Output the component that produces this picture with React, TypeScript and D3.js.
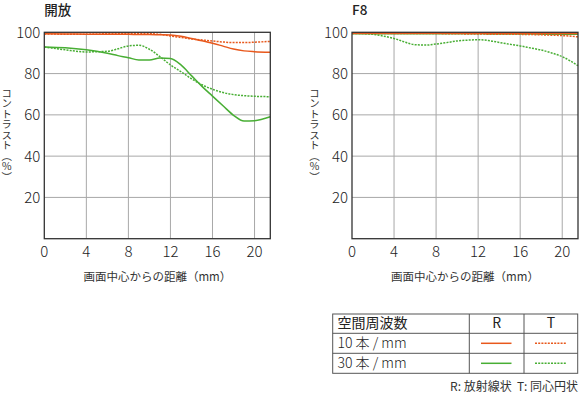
import React from "react";
import * as d3 from "d3";

// image height positions in mm
const positions = [0, 2, 4, 6, 7, 8, 9, 10, 11, 12, 13, 14, 15, 16, 17, 18, 19, 20, 21.5];

// 開放
const openR10 = [99.3, 99.2, 99.1, 99.0, 99.0, 99.0, 98.9, 98.9, 98.8, 98.7, 98.1, 97.0, 95.9, 94.7, 93.3, 91.9, 91.0, 90.6, 90.3];
const openT10 = [99.2, 99.1, 99.1, 99.3, 99.4, 99.5, 99.5, 99.4, 99.0, 98.2, 97.5, 96.8, 96.3, 95.8, 95.3, 95.0, 95.0, 95.2, 95.6];
const openR30 = [92.9, 92.5, 91.5, 89.8, 88.7, 87.7, 86.6, 86.6, 87.5, 87.3, 84.2, 79.0, 73.8, 69.1, 64.4, 59.8, 57.0, 57.2, 59.1];
const openT30 = [92.9, 91.5, 90.5, 90.8, 92.0, 93.4, 93.7, 91.8, 88.2, 84.2, 80.9, 77.5, 74.6, 72.4, 70.8, 69.8, 69.3, 69.0, 68.8];

// F8
const f8R10 = [99.6, 99.6, 99.6, 99.6, 99.6, 99.6, 99.6, 99.6, 99.6, 99.6, 99.6, 99.6, 99.6, 99.6, 99.5, 99.5, 99.5, 99.4, 99.4];
const f8T10 = [99.4, 99.4, 99.4, 99.4, 99.4, 99.4, 99.3, 99.3, 99.2, 99.2, 99.1, 99.1, 99.0, 99.0, 98.9, 98.8, 98.6, 98.4, 97.8];
const f8R30 = [99.3, 99.3, 99.3, 99.3, 99.3, 99.3, 99.3, 99.3, 99.3, 99.3, 99.2, 99.2, 99.2, 99.2, 99.2, 99.1, 99.1, 99.0, 99.0];
const f8T30 = [99.6, 99.0, 97.0, 94.0, 93.8, 94.3, 95.0, 95.8, 96.2, 96.4, 96.0, 95.1, 94.2, 93.4, 92.4, 91.4, 90.0, 88.2, 83.8];

const xTicks = [0, 4, 8, 12, 16, 20];
const yTicks = [20, 40, 60, 80, 100];
const ORANGE = "#e8581c";
const GREEN = "#48ae34";
const FONT = "'Noto Sans CJK JP', 'Noto Sans', sans-serif";
const DOT = "2,1.2";

const panels = [
  { title: "開放", left: 44.3, series: [openR10, openT10, openR30, openT30] },
  { title: "F8", left: 352, series: [f8R10, f8T10, f8R30, f8T30] },
];
const seriesStyle = [
  { color: ORANGE, dash: null },
  { color: ORANGE, dash: DOT },
  { color: GREEN, dash: null },
  { color: GREEN, dash: DOT },
];

function Panel({ title, left, series }) {
  const width = 226;
  const top = 32.3;
  const bottom = 238.7;
  const x = d3.scaleLinear().domain([0, 21.5]).range([left, left + width]);
  const y = d3.scaleLinear().domain([0, 100]).range([bottom, top]);
  const line = d3
    .line<number>()
    .x((_, i) => x(positions[i]))
    .y((d) => y(d))
    .curve(d3.curveMonotoneX);
  // draw order: 10 lines on top of 30 lines
  const order = [3, 2, 1, 0];
  return (
    <g>
      <text x={left} y={14.5} fontSize={13.5} fontWeight={500} fill="#222">{title}</text>
      {xTicks.filter((t) => t > 0).map((t) => (
        <line key={"gx" + t} x1={x(t)} x2={x(t)} y1={top} y2={bottom} stroke="#a8a8a8" strokeWidth={1} />
      ))}
      {yTicks.filter((t) => t < 100).map((t) => (
        <line key={"gy" + t} x1={left} x2={left + width} y1={y(t)} y2={y(t)} stroke="#a8a8a8" strokeWidth={1} />
      ))}
      {order.map((k) => (
        <path
          key={k}
          d={line(series[k]) || ""}
          fill="none"
          stroke={seriesStyle[k].color}
          strokeWidth={1.5}
          strokeDasharray={seriesStyle[k].dash || undefined}
        />
      ))}
      <rect x={left} y={top} width={width} height={bottom - top} fill="none" stroke="#333" strokeWidth={1.3} />
      {yTicks.map((t) => (
        <text key={"ty" + t} x={left - 4} y={y(t)} dy="0.36em" textAnchor="end" fontSize={15} fontWeight={300} fill="#222">{t}</text>
      ))}
      {xTicks.map((t) => (
        <text key={"tx" + t} x={x(t)} y={256.5} textAnchor="middle" fontSize={15} fontWeight={300} fill="#222">{t}</text>
      ))}
      <text x={left + width / 2} y={280.5} textAnchor="middle" fontSize={11.5} fill="#333">画面中心からの距離（mm）</text>
      <text
        x={left - 37.5}
        y={135}
        textAnchor="middle"
        fontSize={10.5}
        fill="#333"
        style={{ writingMode: "vertical-rl", textOrientation: "upright" }}
      >
        コントラスト（％）
      </text>
    </g>
  );
}

const legendRows = ["10 本 / mm", "30 本 / mm"];
const legendColors = [ORANGE, GREEN];

function Legend() {
  const x0 = 332.7, x1 = 469.3, x2 = 524, x3 = 577.7;
  const rows = [314, 333.3, 353.3, 373.3];
  return (
    <g fontFamily={FONT}>
      <rect x={x0} y={rows[0]} width={x3 - x0} height={rows[3] - rows[0]} fill="none" stroke="#555" strokeWidth={1} />
      {rows.slice(1, 3).map((r) => (
        <line key={r} x1={x0} x2={x3} y1={r} y2={r} stroke="#555" strokeWidth={1} />
      ))}
      <line x1={x1} x2={x1} y1={rows[0]} y2={rows[3]} stroke="#555" strokeWidth={1} />
      <line x1={x2} x2={x2} y1={rows[0]} y2={rows[3]} stroke="#555" strokeWidth={1} />
      <text x={337.5} y={328} fontSize={14} fill="#222">空間周波数</text>
      <text x={(x1 + x2) / 2} y={328} textAnchor="middle" fontSize={14} fill="#222">R</text>
      <text x={(x2 + x3) / 2} y={328} textAnchor="middle" fontSize={14} fill="#222">T</text>
      {legendRows.map((label, i) => {
        const cy = (rows[i + 1] + rows[i + 2]) / 2;
        return (
          <g key={label}>
            <text x={337.5} y={cy + 5} fontSize={14} fontWeight={300} fill="#222">{label}</text>
            <line x1={481} x2={511.5} y1={cy} y2={cy} stroke={legendColors[i]} strokeWidth={1.5} />
            <line x1={535} x2={566.5} y1={cy} y2={cy} stroke={legendColors[i]} strokeWidth={1.5} strokeDasharray={DOT} />
          </g>
        );
      })}
      <text x={578} y={390.5} textAnchor="end" fontSize={12} fill="#333" style={{ whiteSpace: "pre" }}>
        R: 放射線状  T: 同心円状
      </text>
    </g>
  );
}

export default function App() {
  return (
    <svg
      width={579}
      height={394}
      style={{ position: "absolute", left: 0, top: 0, background: "#fff" }}
      fontFamily={FONT}
    >
      {panels.map((p) => (
        <Panel key={p.title} {...p} />
      ))}
      <Legend />
    </svg>
  );
}
